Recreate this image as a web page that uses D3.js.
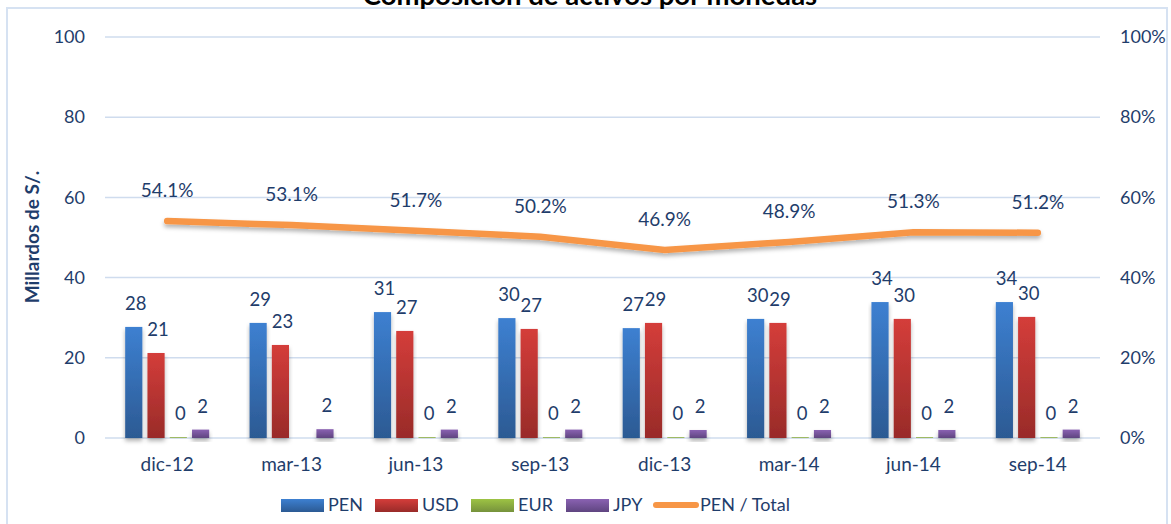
<!DOCTYPE html>
<html>
<head>
<meta charset="utf-8">
<script src="https://cdn.jsdelivr.net/npm/d3@7"></script>
<style>
  body { margin: 0; background: #fff; }
  svg { display: block; font-family: Lato, "Open Sans", sans-serif; }
</style>
</head>
<body>
<div id="chart"></div>
<script>
// data
const periods = ['dic-12', 'mar-13', 'jun-13', 'sep-13', 'dic-13', 'mar-14', 'jun-14', 'sep-14'];
const pen = [27.7, 28.7, 31.4, 29.9, 27.4, 29.7, 33.9, 33.9];
const usd = [21.2, 23.2, 26.7, 27.2, 28.7, 28.7, 29.7, 30.2];
const eur = [0.2, null, 0.2, 0.2, 0.2, 0.2, 0.2, 0.2];
const jpy = [2.1, 2.2, 2.1, 2.1, 2.0, 2.0, 2.0, 2.1];
const penShare = [54.1, 53.1, 51.7, 50.2, 46.9, 48.9, 51.3, 51.2];
const leftTicks = [0, 20, 40, 60, 80, 100];
const rightTicks = [0, 20, 40, 60, 80, 100];

const series = [
    { key: 'PEN', values: pen, top: '#3d80d1', bottom: '#2c5a93' },
    { key: 'USD', values: usd, top: '#d43d3a', bottom: '#992b29' },
    { key: 'EUR', values: eur, top: '#9dc344', bottom: '#76923c' },
    { key: 'JPY', values: jpy, top: '#8a62b2', bottom: '#5f4580' }
];

const W = 1171, H = 524;
const textColor = '#1f3d6b';
const gridColor = '#cfdcee';

const svg = d3.select('#chart').append('svg')
    .attr('width', W)
    .attr('height', H);

const defs = svg.append('defs');
series.forEach(s => {
    const g = defs.append('linearGradient')
        .attr('id', 'grad-' + s.key)
        .attr('x1', 0).attr('y1', 0).attr('x2', 0).attr('y2', 1);
    g.append('stop').attr('offset', '0%').attr('stop-color', s.top);
    g.append('stop').attr('offset', '100%').attr('stop-color', s.bottom);
});
const shadow = defs.append('filter').attr('id', 'shadow')
    .attr('x', '-20%').attr('y', '-20%').attr('width', '140%').attr('height', '160%');
shadow.append('feDropShadow')
    .attr('dx', 0).attr('dy', 3).attr('stdDeviation', 2)
    .attr('flood-color', '#000').attr('flood-opacity', 0.3);

// outer frame
svg.append('rect')
    .attr('x', 7).attr('y', 8)
    .attr('width', 1160).attr('height', 520)
    .attr('fill', 'none')
    .attr('stroke', '#d6e2f2')
    .attr('stroke-width', 2);

// title (cut off at top like the source)
svg.append('text')
    .attr('x', 590).attr('y', 5)
    .attr('text-anchor', 'middle')
    .attr('font-size', 27.5)
    .attr('font-weight', 'bold')
    .attr('fill', '#000')
    .text('Composición de activos por monedas');

const x0 = d3.scaleBand().domain(periods).range([105, 1100]);
const x1 = d3.scaleBand().domain(series.map(s => s.key))
    .range([0, 84]).paddingInner(0.23);
const y = d3.scaleLinear().domain([0, 100]).range([438, 37]);
const yR = d3.scaleLinear().domain([0, 100]).range([438, 37]);

// grid
svg.append('g')
    .selectAll('line')
    .data(leftTicks)
    .enter()
    .append('line')
    .attr('x1', 105).attr('x2', 1100)
    .attr('y1', d => y(d)).attr('y2', d => y(d))
    .attr('stroke', gridColor)
    .attr('stroke-width', 1.5);

// left axis
const leftAxis = svg.append('g')
    .attr('transform', 'translate(85,0)')
    .call(d3.axisLeft(y).tickValues(leftTicks).tickSize(0).tickPadding(0));
leftAxis.select('.domain').remove();
leftAxis.selectAll('text')
    .attr('font-size', 18)
    .attr('font-family', 'Lato, sans-serif')
    .attr('fill', textColor);

// right axis
const rightAxis = svg.append('g')
    .attr('transform', 'translate(1120,0)')
    .call(d3.axisRight(yR).tickValues(rightTicks).tickSize(0).tickPadding(0)
        .tickFormat(d => d + '%'));
rightAxis.select('.domain').remove();
rightAxis.selectAll('text')
    .attr('font-size', 18)
    .attr('font-family', 'Lato, sans-serif')
    .attr('fill', textColor);

// bottom axis labels
const bottomAxis = svg.append('g')
    .attr('transform', 'translate(0,438)')
    .call(d3.axisBottom(x0).tickSize(0).tickPadding(20));
bottomAxis.select('.domain').remove();
bottomAxis.selectAll('text')
    .attr('font-size', 19)
    .attr('font-family', 'Lato, sans-serif')
    .attr('fill', textColor);

// y axis title
svg.append('text')
    .attr('transform', 'translate(39,237) rotate(-90)')
    .attr('text-anchor', 'middle')
    .attr('font-size', 19)
    .attr('font-weight', 'bold')
    .attr('fill', textColor)
    .text('Millardos de S/.');

// bars
const groups = svg.append('g')
    .selectAll('g')
    .data(periods)
    .enter()
    .append('g')
    .attr('transform', d => `translate(${x0(d) + x0.bandwidth() / 2 - 42},0)`);

groups.each(function (p, i) {
    const g = d3.select(this);
    series.forEach(s => {
        const v = s.values[i];
        if (v == null) return;
        g.append('rect')
            .attr('x', x1(s.key))
            .attr('y', y(v))
            .attr('width', x1.bandwidth())
            .attr('height', y(0) - y(v))
            .attr('fill', `url(#grad-${s.key})`)
            .attr('filter', 'url(#shadow)');
        g.append('text')
            .attr('x', x1(s.key) + x1.bandwidth() / 2 + 2)
            .attr('y', y(v) - 17)
            .attr('text-anchor', 'middle')
            .attr('font-size', 18.5)
            .attr('fill', textColor)
            .text(Math.round(v));
    });
});

// PEN / Total line
const line = d3.line()
    .x((d, i) => x0(periods[i]) + x0.bandwidth() / 2)
    .y(d => yR(d));

svg.append('path')
    .datum(penShare)
    .attr('d', line)
    .attr('fill', 'none')
    .attr('stroke', '#f79646')
    .attr('stroke-width', 6.5)
    .attr('stroke-linecap', 'round')
    .attr('filter', 'url(#shadow)');

svg.append('g')
    .selectAll('text')
    .data(penShare)
    .enter()
    .append('text')
    .attr('x', (d, i) => x0(periods[i]) + x0.bandwidth() / 2)
    .attr('y', d => yR(d) - 24)
    .attr('text-anchor', 'middle')
    .attr('font-size', 19)
    .attr('fill', textColor)
    .text(d => d.toFixed(1) + '%');

// legend
const legendItems = [
    { label: 'PEN', x: 281, type: 'bar', key: 'PEN' },
    { label: 'USD', x: 375, type: 'bar', key: 'USD' },
    { label: 'EUR', x: 471, type: 'bar', key: 'EUR' },
    { label: 'JPY', x: 566, type: 'bar', key: 'JPY' },
    { label: 'PEN / Total', x: 653, type: 'line' }
];
const legend = svg.append('g');
legendItems.forEach(it => {
    if (it.type === 'bar') {
        legend.append('rect')
            .attr('x', it.x).attr('y', 499)
            .attr('width', 43).attr('height', 13)
            .attr('fill', `url(#grad-${it.key})`);
    } else {
        legend.append('line')
            .attr('x1', it.x + 3).attr('x2', it.x + 43)
            .attr('y1', 505).attr('y2', 505)
            .attr('stroke', '#f79646')
            .attr('stroke-width', 6)
            .attr('stroke-linecap', 'round');
    }
    legend.append('text')
        .attr('x', it.x + 47).attr('y', 511)
        .attr('font-size', 18)
        .attr('fill', textColor)
        .text(it.label);
});
</script>
</body>
</html>
